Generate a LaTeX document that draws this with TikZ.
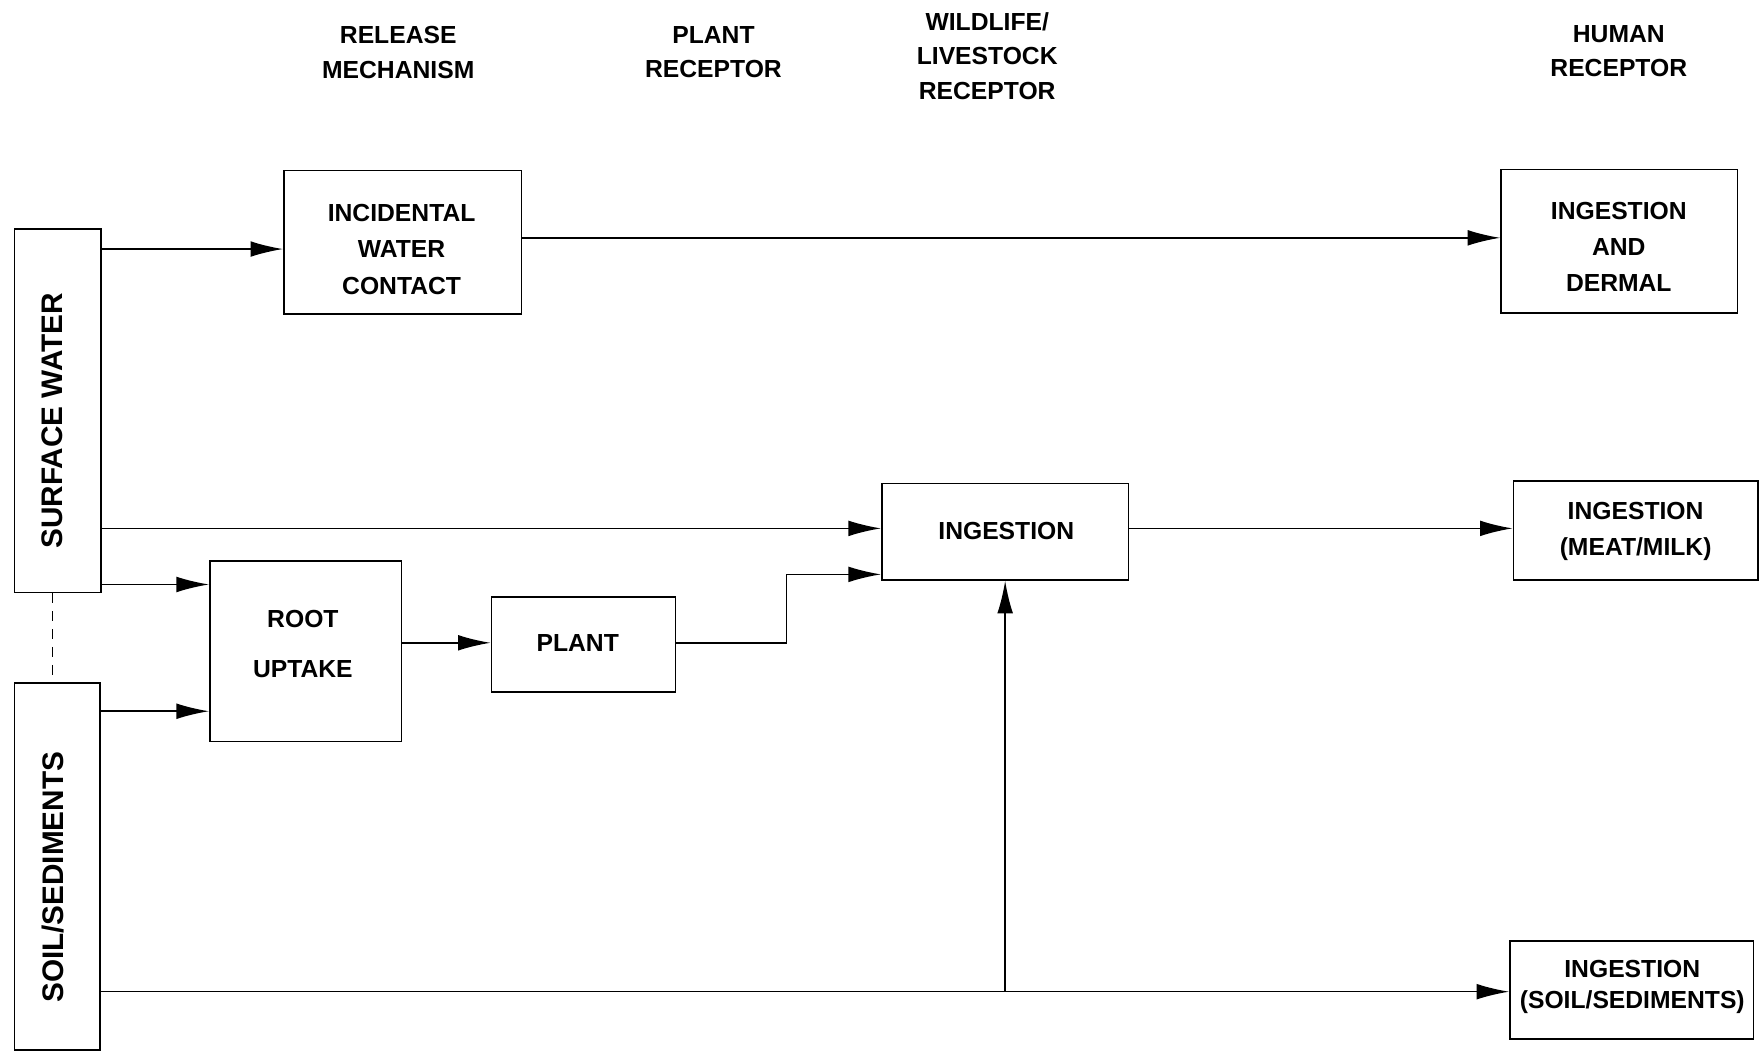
\documentclass[tikz,border=0pt]{standalone}
\usepackage{fontspec}
\setmainfont{Liberation Sans}
\usetikzlibrary{arrows.meta,positioning}
\begin{document}
\begin{tikzpicture}[x=1pt,y=-1pt,
  lbl/.style={font=\bfseries\fontsize{22}{31}\selectfont,align=center,inner sep=0pt},
  vlbl/.style={lbl,rotate=90,font=\bfseries\fontsize{26.5}{30}\selectfont},
  box/.style={draw,line width=1.4pt,inner sep=0pt,font=\bfseries\fontsize{22}{32.5}\selectfont,align=center},
  arr/.style={line width=1.4pt,-{Latex[length=29pt,width=14pt]}},
  ln/.style={line width=1.4pt}]
\useasboundingbox (0,0) rectangle (1568,940);
% headers
\node[lbl] (h1) at (355,46.5) {RELEASE\\MECHANISM};
\node[lbl] (h2) at (636,46.5) {PLANT\\RECEPTOR};
\node[lbl] (h3) at (880,50) {WILDLIFE/\\LIVESTOCK\\RECEPTOR};
\node[lbl] (h4) at (1443,45.5) {HUMAN\\RECEPTOR};
% source boxes
\node[box,minimum width=77pt,minimum height=324pt] (sw) at (51.5,366) {};
\node[vlbl] (swt) at (47,375) {SURFACE WATER};
\node[box,minimum width=76pt,minimum height=327pt] (soil) at (51,772.5) {};
\node[vlbl] (soilt) at (47,782) {SOIL/SEDIMENTS};
\draw[line width=1pt,dashed,dash pattern=on 9pt off 7pt] (sw.south -| 47,0) -- (soil.north -| 47,0);
% other boxes
\node[box,minimum width=212pt,minimum height=128pt] (inc) at (359,216) {};
\node[lbl,font=\bfseries\fontsize{22}{32.5}\selectfont] (inct) at (358,222) {INCIDENTAL\\WATER\\CONTACT};
\node[box,minimum width=211pt,minimum height=128pt] (derm) at (1443.5,215) {};
\node[lbl,font=\bfseries\fontsize{22}{32}\selectfont] (dermt) at (1443,220) {INGESTION\\AND\\DERMAL};
\node[box,minimum width=220pt,minimum height=86pt] (ing) at (896,474) {};
\node[lbl] (ingt) at (897,473) {INGESTION};
\node[box,minimum width=218pt,minimum height=88pt] (meat) at (1458,473) {};
\node[lbl,font=\bfseries\fontsize{22}{32}\selectfont] (meatt) at (1458,474) {INGESTION\\(MEAT/MILK)};
\node[box,minimum width=171pt,minimum height=161pt] (root) at (272.5,580.5) {};
\node[lbl,font=\bfseries\fontsize{22}{44}\selectfont] (roott) at (270,574) {ROOT\\UPTAKE};
\node[box,minimum width=164pt,minimum height=85pt] (plant) at (520,574.5) {};
\node[lbl] (plantt) at (515,573) {PLANT};
\node[box,minimum width=217pt,minimum height=87pt] (sing) at (1454.5,882.5) {};
\node[lbl,font=\bfseries\fontsize{22}{28}\selectfont] (singt) at (1455,880) {INGESTION\\(SOIL/SEDIMENTS)};
% connectors
\draw[arr] (sw.east |- 0,222) -- (inc.west |- 0,222);
\draw[arr] (inc.east |- 0,212) -- (derm.west |- 0,212);
\draw[arr] (sw.east |- 0,471) -- (ing.west |- 0,471);
\draw[arr] (sw.east |- 0,521) -- (root.west |- 0,521);
\draw[arr] (soil.east |- 0,634) -- (root.west |- 0,634);
\draw[arr] (root.east |- 0,573) -- (plant.west |- 0,573);
\draw[arr] (plant.east |- 0,573) -- (701,573) |- (ing.west |- 0,512);
\draw[arr] (ing.east |- 0,471) -- (meat.west |- 0,471);
\draw[arr] (soil.east |- 0,884) -- (sing.west |- 0,884);
\draw[arr] (ing.south |- 0,884) -- (ing.south);
\end{tikzpicture}
\end{document}
